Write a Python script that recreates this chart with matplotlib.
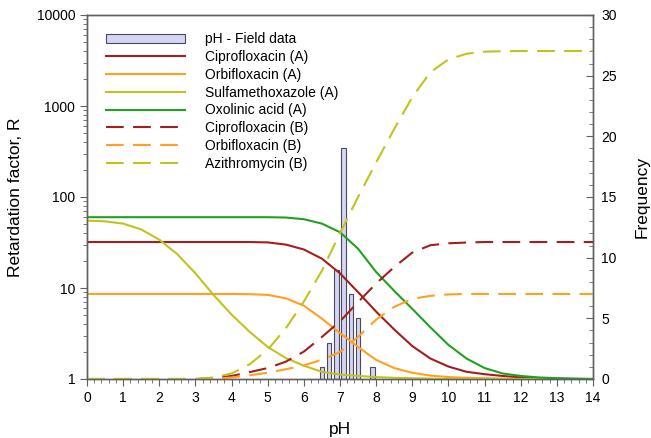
import matplotlib
matplotlib.use('Agg')
import matplotlib.pyplot as plt
from matplotlib.ticker import LogLocator, MultipleLocator, FuncFormatter, NullFormatter
from matplotlib.patches import Patch

plt.rcParams['font.family'] = ['Liberation Sans', 'DejaVu Sans']

# pH grid used for the retardation curves
ph = [0, 0.5, 1, 1.5, 2, 2.5, 3, 3.5, 4, 4.5, 5, 5.5, 6, 6.5, 7,
      7.5, 8, 8.5, 9, 9.5, 10, 10.5, 11, 11.5, 12, 12.5, 13, 13.5, 14]

# retardation factor R, model A
cipro_a = [32, 32, 32, 32, 32, 32, 32, 32, 32, 32, 31.7, 30, 26.5, 21, 14.5,
           9, 5.5, 3.5, 2.3, 1.68, 1.37, 1.2, 1.13, 1.08, 1.04, 1.02, 1.01, 1.0, 1.0]
orbi_a = [8.6, 8.6, 8.6, 8.6, 8.6, 8.6, 8.6, 8.6, 8.6, 8.55, 8.4, 7.7, 6.4, 4.6, 3.2,
          2.25, 1.62, 1.32, 1.17, 1.09, 1.05, 1.03, 1.02, 1.01, 1.0, 1.0, 1.0, 1.0, 1.0]
sulfa_a = [55, 54, 51, 44, 34, 23.5, 14.5, 8.4, 5.1, 3.3, 2.25, 1.7, 1.4, 1.2, 1.12,
           1.08, 1.05, 1.03, 1.02, 1.01, 1.0, 1.0, 1.0, 1.0, 1.0, 1.0, 1.0, 1.0, 1.0]
oxolinic_a = [60, 60, 60, 60, 60, 60, 60, 60, 60, 60, 60, 59.5, 57, 51, 41,
              27, 15, 9.3, 5.9, 3.7, 2.37, 1.68, 1.32, 1.15, 1.08, 1.04, 1.02, 1.01, 1.0]

# retardation factor R, model B
cipro_b = [1, 1, 1, 1, 1, 1, 1, 1.02, 1.08, 1.19, 1.32, 1.55, 2.0, 2.9, 4.3,
           7.0, 11.2, 17, 24.5, 29.5, 31, 31.6, 32, 32, 32, 32, 32, 32, 32]
orbi_b = [1, 1, 1, 1, 1, 1, 1, 1.0, 1.04, 1.1, 1.17, 1.28, 1.41, 1.63, 1.98,
          2.9, 4.5, 6.2, 7.6, 8.2, 8.5, 8.6, 8.6, 8.6, 8.6, 8.6, 8.6, 8.6, 8.6]
azithro_b = [1, 1, 1, 1, 1, 1, 1, 1.04, 1.15, 1.45, 2.1, 3.6, 7.1, 15.5, 40,
             100, 240, 560, 1250, 2350, 3250, 3750, 3950, 4000, 4020, 4020, 4020, 4020, 4020]

# field pH histogram
field_ph = [6.5, 6.7, 6.9, 7.1, 7.3, 7.5, 7.9]
field_count = [1, 3, 9, 19, 7, 5, 1]

RED = '#a31e1e'
ORANGE = '#ffa024'
OLIVE = '#c2c21e'
GREEN = '#22a022'
SPINE = '#606060'

fig = plt.figure(figsize=(6.51, 4.38), dpi=100)
ax = fig.add_axes([87 / 651, 59 / 438, 506 / 651, 364 / 438])
ax2 = ax.twinx()

# histogram behind the curves
bar_kw = dict(facecolor='#d4d4f4', edgecolor='#4a4a5a', linewidth=0.8)
ax2.bar(field_ph, field_count, width=0.12, **bar_kw)
ax2.set_ylim(0, 30)
ax2.yaxis.set_major_locator(MultipleLocator(5))
ax2.yaxis.set_minor_locator(MultipleLocator(1))
ax2.set_ylabel('Frequency', fontsize=12.5, labelpad=13)

ax.set_zorder(ax2.get_zorder() + 1)
ax.patch.set_visible(False)

lw = 1.5
dash = (8.5, 4.5)
lines = []
lines += ax.plot(ph, cipro_a, color=RED, lw=lw, label='Ciprofloxacin (A)')
lines += ax.plot(ph, orbi_a, color=ORANGE, lw=lw, label='Orbifloxacin (A)')
lines += ax.plot(ph, sulfa_a, color=OLIVE, lw=lw, label='Sulfamethoxazole (A)')
lines += ax.plot(ph, oxolinic_a, color=GREEN, lw=lw, label='Oxolinic acid (A)')
lines += ax.plot(ph, cipro_b, color=RED, lw=lw, dashes=dash, label='Ciprofloxacin (B)')
lines += ax.plot(ph, orbi_b, color=ORANGE, lw=lw, dashes=dash, label='Orbifloxacin (B)')
lines += ax.plot(ph, azithro_b, color=OLIVE, lw=lw, dashes=dash, label='Azithromycin (B)')

ax.set_yscale('log')
ax.set_ylim(1, 10000)
ax.set_xlim(0, 14)
ax.xaxis.set_major_locator(MultipleLocator(1))
ax.xaxis.set_minor_locator(MultipleLocator(0.2))
ax.yaxis.set_major_locator(LogLocator(base=10))
ax.yaxis.set_minor_locator(LogLocator(base=10, subs=range(2, 10)))
ax.yaxis.set_major_formatter(FuncFormatter(lambda v, p: f'{v:g}'))
ax.yaxis.set_minor_formatter(NullFormatter())

ax.set_xlabel('pH', fontsize=12.5, labelpad=12)
ax.set_ylabel('Retardation factor, R', fontsize=12.5, labelpad=10)

for a in (ax, ax2):
    for s in a.spines.values():
        s.set_color(SPINE)
        s.set_linewidth(1.0)
ax.tick_params(which='both', direction='out', color=SPINE, labelsize=10)
ax.tick_params(which='major', length=5)
ax.tick_params(which='minor', length=3)
ax.tick_params(axis='x', pad=4)
ax2.tick_params(which='both', direction='in', color=SPINE, labelsize=10)
ax2.tick_params(which='major', length=5, pad=6)
ax2.tick_params(which='minor', length=3)

handles = [Patch(**bar_kw)] + lines
labels = ['pH - Field data'] + [l.get_label() for l in lines]
ax.legend(handles, labels, loc='upper left', bbox_to_anchor=(19 / 506, 0.952),
          frameon=False, fontsize=10, borderpad=0, borderaxespad=0,
          handlelength=5.7, handletextpad=1.4, labelspacing=0.27)

fig.savefig('out.png', dpi=100)
